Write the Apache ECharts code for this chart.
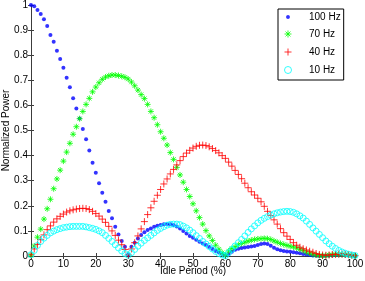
<!DOCTYPE html>
<html><head><meta charset="utf-8">
<script src="https://cdn.jsdelivr.net/npm/echarts@6/dist/echarts.min.js"></script>
<style>html,body{margin:0;padding:0;background:#fff}#c{width:365px;height:281px}</style>
</head><body><div id="c"></div>
<script>
// Idle period (%) sample positions
const idle = [0,1,2,3,4,5,6,7,8,9,10,11,12,13,14,15,16,17,18,19,20,21,22,23,24,25,26,27,28,29,30,31,32,33,34,35,36,37,38,39,40,41,42,43,44,45,46,47,48,49,50,51,52,53,54,55,56,57,58,59,60,61,62,63,64,65,66,67,68,69,70,71,72,73,74,75,76,77,78,79,80,81,82,83,84,85,86,87,88,89,90,91,92,93,94,95,96,97,98,99,100];

const seriesNames = ['100 Hz', '70 Hz', '40 Hz', '10 Hz'];

const p100 = [
 1.000,0.995,0.980,0.964,0.943,0.916,0.880,0.854,0.818,0.785,
 0.750,0.710,0.672,0.628,0.588,0.548,0.506,0.465,0.420,0.372,
 0.332,0.290,0.252,0.216,0.179,0.150,0.117,0.086,0.060,0.037,
 0.005,0.037,0.053,0.070,0.084,0.095,0.104,0.110,0.117,0.121,
 0.124,0.126,0.126,0.126,0.124,0.118,0.110,0.100,0.090,0.080,
 0.073,0.065,0.057,0.050,0.044,0.036,0.028,0.020,0.014,0.008,
 0.002,0.008,0.017,0.025,0.029,0.032,0.034,0.036,0.038,0.040,
 0.044,0.048,0.050,0.048,0.041,0.033,0.027,0.023,0.020,0.018,
 0.017,0.015,0.013,0.011,0.008,0.006,0.004,0.002,0.001,0.000,
 0.000,0.001,0.002,0.002,0.003,0.003,0.003,0.002,0.002,0.001,
 0.000];

const p70 = [
 0.003,0.040,0.075,0.107,0.147,0.188,0.226,0.268,0.307,0.342,
 0.378,0.414,0.449,0.485,0.515,0.547,0.576,0.604,0.628,0.654,
 0.673,0.690,0.704,0.713,0.718,0.721,0.721,0.719,0.716,0.712,
 0.705,0.693,0.678,0.661,0.643,0.627,0.604,0.576,0.551,0.523,
 0.495,0.469,0.442,0.412,0.385,0.353,0.323,0.294,0.265,0.237,
 0.208,0.180,0.153,0.127,0.101,0.080,0.062,0.043,0.027,0.013,
 0.004,0.020,0.030,0.037,0.045,0.050,0.055,0.059,0.063,0.066,
 0.068,0.069,0.070,0.069,0.066,0.060,0.055,0.050,0.046,0.042,
 0.039,0.036,0.032,0.027,0.022,0.016,0.011,0.007,0.004,0.002,
 0.001,0.002,0.004,0.005,0.006,0.006,0.006,0.005,0.004,0.002,
 0.000];

const p40 = [
 0.005,0.028,0.046,0.065,0.084,0.105,0.120,0.135,0.148,0.158,
 0.167,0.175,0.180,0.184,0.187,0.189,0.190,0.189,0.185,0.178,
 0.169,0.159,0.147,0.134,0.118,0.100,0.082,0.063,0.045,0.026,
 0.004,0.028,0.053,0.080,0.108,0.137,0.165,0.192,0.218,0.242,
 0.265,0.287,0.307,0.327,0.345,0.363,0.380,0.396,0.410,0.421,
 0.430,0.437,0.441,0.442,0.440,0.435,0.428,0.420,0.411,0.400,
 0.389,0.374,0.358,0.341,0.325,0.308,0.290,0.272,0.256,0.243,
 0.230,0.216,0.198,0.178,0.161,0.144,0.127,0.109,0.093,0.079,
 0.066,0.053,0.043,0.035,0.029,0.024,0.019,0.015,0.010,0.006,
 0.004,0.003,0.004,0.006,0.007,0.008,0.008,0.007,0.005,0.003,
 0.001];

const p10 = [
 0.005,0.022,0.042,0.058,0.071,0.082,0.092,0.099,0.105,0.109,
 0.113,0.115,0.117,0.118,0.118,0.118,0.118,0.116,0.113,0.110,
 0.106,0.100,0.093,0.082,0.070,0.058,0.045,0.032,0.020,0.010,
 0.003,0.013,0.026,0.039,0.051,0.062,0.072,0.082,0.092,0.102,
 0.110,0.117,0.123,0.126,0.127,0.127,0.125,0.119,0.112,0.103,
 0.093,0.081,0.070,0.058,0.048,0.038,0.028,0.018,0.010,0.004,
 0.001,0.013,0.026,0.040,0.053,0.066,0.080,0.094,0.108,0.120,
 0.132,0.142,0.150,0.157,0.163,0.168,0.172,0.175,0.177,0.178,
 0.177,0.174,0.168,0.160,0.151,0.139,0.126,0.112,0.099,0.086,
 0.073,0.060,0.049,0.039,0.030,0.022,0.016,0.011,0.007,0.004,
 0.002];

const xTicks = [0,10,20,30,40,50,60,70,80,90,100];
const yTicks = ['0','0.1','0.2','0.3','0.4','0.5','0.6','0.7','0.8','0.9','1'];

const FONT = '"Liberation Sans", Arial, Helvetica, sans-serif';
const AX = '#3c3c3c';
const chart = echarts.init(document.getElementById('c'), null, {renderer: 'canvas'});
const pairs = ys => idle.map((x, i) => [x, ys[i]]);

const PLUS = 'path://M0,5L10,5M5,0L5,10';
const STAR = 'path://M0,5L10,5M5,0L5,10M1.5,1.5L8.5,8.5M8.5,1.5L1.5,8.5';
const DOT_LEGEND = 'path://M0,0M12,12M9.4,6L8.4,8.4L6,9.4L3.6,8.4L2.6,6L3.6,3.6L6,2.6L8.4,3.6Z';

const axisCommon = {
  type: 'value',
  axisLine: {show: true, lineStyle: {color: AX, width: 1}},
  axisTick: {show: true, inside: true, length: 3, lineStyle: {color: AX}},
  splitLine: {show: false}
};

const option = {
  animation: false,
  backgroundColor: '#ffffff',
  textStyle: {fontFamily: FONT},
  grid: {left: 31, right: 10, top: 5, bottom: 25, containLabel: false, outerBoundsMode: 'none'},
  xAxis: [
    Object.assign({}, axisCommon, {
      min: xTicks[0], max: xTicks[xTicks.length - 1], interval: 10, position: 'bottom',
      name: 'Idle Period (%)', nameLocation: 'middle', nameGap: 10, nameMoveOverlap: false,
      nameTextStyle: {fontFamily: FONT, fontSize: 10, color: '#000'},
      axisLabel: {margin: 3, fontFamily: FONT, fontSize: 10, color: '#000'}
    }),
    Object.assign({}, axisCommon, {
      min: xTicks[0], max: xTicks[xTicks.length - 1], interval: 10, position: 'top',
      axisLabel: {show: false}
    })
  ],
  yAxis: [
    Object.assign({}, axisCommon, {
      min: 0, max: 1, interval: 0.1, position: 'left',
      name: 'Normalized Power', nameLocation: 'middle', nameGap: 20, nameMoveOverlap: false,
      nameTextStyle: {fontFamily: FONT, fontSize: 10, color: '#000'},
      axisLabel: {margin: 3, fontFamily: FONT, fontSize: 10, color: '#000',
        formatter: v => yTicks[Math.round(v * 10)]}
    }),
    Object.assign({}, axisCommon, {
      min: 0, max: 1, interval: 0.1, position: 'right',
      axisLabel: {show: false}
    })
  ],
  legend: {
    orient: 'vertical', left: 278, top: 9, padding: [3, 3, 4, 4],
    itemWidth: 32, itemHeight: 7, itemGap: 6,
    borderColor: '#000', borderWidth: 1, backgroundColor: '#fff',
    selectedMode: false,
    itemStyle: {borderWidth: 1},
    textStyle: {fontFamily: FONT, fontSize: 10, color: '#000', lineHeight: 8},
    data: [
      {name: seriesNames[0], icon: DOT_LEGEND},
      {name: seriesNames[1]},
      {name: seriesNames[2]},
      {name: seriesNames[3]}
    ]
  },
  series: [
    {name: seriesNames[0], type: 'scatter', data: pairs(p100), symbol: 'circle', symbolSize: 4,
     itemStyle: {color: '#0000ff'}},
    {name: seriesNames[1], type: 'scatter', data: pairs(p70), symbol: STAR, symbolSize: 6,
     itemStyle: {color: 'none', borderColor: '#00ff00', borderWidth: 1}},
    {name: seriesNames[2], type: 'scatter', data: pairs(p40), symbol: PLUS, symbolSize: 7,
     itemStyle: {color: 'none', borderColor: '#ff0000', borderWidth: 1}},
    {name: seriesNames[3], type: 'scatter', data: pairs(p10), symbol: 'circle', symbolSize: 6,
     itemStyle: {color: 'none', borderColor: '#00ffff', borderWidth: 1}}
  ]
};
chart.setOption(option);
</script>
</body></html>
